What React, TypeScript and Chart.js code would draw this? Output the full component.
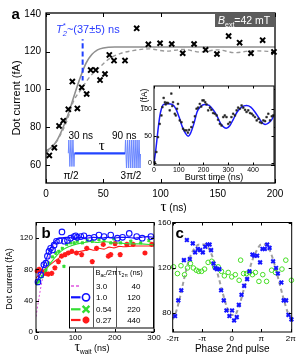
import React, { useEffect, useRef } from "react";
import { Chart, registerables } from "chart.js";
Chart.register(...registerables);

const SANS = "'Liberation Sans', Arial, sans-serif";
const SERIF = "'Liberation Serif', 'Times New Roman', serif";
const W = 307;
const H = 361;

// ---------- Panel a : Ramsey decay ----------
const aTicksX = [0, 50, 100, 150, 200];
const aTicksY = [60, 80, 100, 120, 140];
const aTau = [2.9, 7.3, 11.4, 15.1, 19.5, 23, 27.4, 31.2, 35.5, 39, 43.4, 47.2, 51.5, 55.3, 59.4, 69, 79.2, 89.4, 99.6, 109.8, 119.4, 129.3, 139.4, 149.3, 159.5, 169.1, 179, 189.2, 199.1];
const aCurrent = [65.1, 69.2, 80.7, 83.5, 89.5, 104.2, 90, 101.1, 97.6, 110.3, 110.3, 105, 108.2, 118.3, 115.3, 115.3, 132.4, 123.9, 124.5, 124.1, 119.2, 124.1, 121, 118.8, 128.3, 124.8, 119.2, 126.1, 119.9];
const aFitTau = [0, 5, 10, 15, 20, 25, 30, 35, 40, 45, 50, 60, 80, 200];
const aFitSolid = [67.5, 69.5, 73.5, 80, 88, 97.5, 106.5, 114, 118.5, 121, 122, 122.5, 122.5, 122.5];
const aSimTau = [0, 5, 10.8, 18, 23.9, 31.2, 38.4, 47.2, 55.9, 64.6, 76, 90, 105, 120, 135, 150, 165, 180, 200];
const aSimCurrent = [66.5, 69, 74, 83, 93.6, 100.5, 106.8, 112, 116.5, 119, 120.6, 121.5, 120.3, 121.2, 119.8, 121, 119.5, 120.5, 120];
const aT2Tau = [32, 32];
const aT2Current = [104.7, 126.6];

// ---------- Panel a inset : Rabi oscillation ----------
const inTicksX = [0, 100, 200, 300, 400];
const inTicksY = [0, 50, 100];
const burstTime = [3, 9.5, 16, 23, 30, 34, 39, 44, 47, 52, 57, 63.5, 70, 74, 77, 84, 88, 93, 97, 104, 111, 117.6, 124, 131, 137, 142, 151, 158, 165, 172, 178, 185, 191, 196, 201, 207, 212, 219, 226, 232, 239, 246, 253, 259, 266, 273, 280, 286, 293, 300, 307, 313, 320, 327, 334, 340, 347, 354, 361, 368, 374, 381, 388, 395, 401, 408, 415, 422, 428, 435, 442, 449, 455, 462, 469, 476, 482];
const burstCurrent = [1, 20, 47.5, 72, 87.6, 103, 120, 112, 108, 111, 110.5, 97, 128, 105, 112, 90.7, 87.6, 100, 109, 78.4, 75, 63, 60, 60, 56, 61, 66, 75, 86, 100, 102, 109, 104, 115.4, 115.4, 112, 108, 97, 102, 98, 92, 90.7, 87.6, 79.6, 72, 69, 84.5, 87.6, 84.5, 72, 75, 84.5, 90.7, 87.6, 97, 102, 100, 106, 102, 98, 94, 97, 92, 90.7, 87.6, 84.5, 78.4, 81.5, 75, 73.5, 78.4, 77, 84.5, 90.7, 78.4, 86, 87.6];
const burstFitTime = [0, 7, 16, 23, 30, 39, 57, 74, 88, 101, 115, 128, 138, 147, 161, 174, 188, 205, 223, 239, 253, 269, 282, 293, 307, 320, 336, 354, 374, 391, 408, 426, 439, 449, 462, 476, 485];
const burstFitCurrent = [0, 23, 60, 85, 100, 108, 109, 108, 100, 85, 66, 54, 49, 54, 72, 94, 104, 108, 106, 98, 88, 73, 66, 64, 69, 80, 94, 103, 106, 103, 94, 81.5, 73.5, 71, 73.5, 80, 88];

// ---------- Panel b : current vs waiting time ----------
const bTicksX = [0, 100, 200, 300];
const bTicksY = [0, 40, 80, 120];
const blueT = [5, 12, 20, 25, 29, 33, 37, 42, 46, 52, 60, 66, 72, 80, 88, 97, 101, 105, 114, 122, 135, 148, 160, 173, 190, 207, 220, 237, 256, 270, 292];
const blueI = [64, 73, 86, 88, 97, 103, 107, 105, 111, 116, 117, 128, 116, 117, 120, 122, 123, 121, 122, 123, 120, 121, 124, 122, 124, 120, 121, 126, 122, 120, 122];
const blueFitT = [0, 12, 25, 37, 50, 63, 80, 97, 114, 130, 147, 164, 181, 198, 215, 232, 249, 266, 283, 300];
const blueFitI = [62, 75, 92, 107, 117, 120, 121, 120, 121, 120, 121, 120, 121, 120, 121, 121, 120, 121, 122, 121];
const greenT = [3, 8, 16, 25, 33, 42, 50, 58, 67, 71, 78, 88, 97, 105, 118, 130, 143, 160, 173, 190, 198, 215, 241, 266, 287];
const greenI = [62, 65, 71, 79, 88, 96, 101, 103, 107, 84, 112, 114, 114, 116, 114, 117, 116, 118, 117, 114, 119, 114, 116, 114, 117];
const greenFitT = [0, 20, 37, 54, 71, 88, 105, 122, 139, 156, 173, 190, 215, 241, 266, 300];
const greenFitI = [60, 75, 88, 98.6, 106, 110, 112.7, 114.4, 115.7, 114.4, 115.7, 114.4, 113.6, 112.7, 112.7, 111.4];
const redT = [3, 8, 14, 23, 31, 40, 48, 57, 65, 74, 82, 91, 103, 116, 129, 143, 154, 171, 184, 190, 201, 214, 231, 247, 277, 294];
const redI = [78, 80, 78, 75, 74, 75, 82, 90, 97, 99, 101, 103, 101, 99, 107, 90, 107, 112, 97, 99, 113, 99, 112, 112, 101, 112];
const redFitT = [0, 20, 46, 71, 97, 122, 135, 148, 160, 173, 186, 198, 211, 224, 249, 275, 300];
const redFitI = [69, 79, 90, 98.6, 101.6, 104, 106, 104.5, 107, 106, 108.5, 107.5, 109.5, 109, 110, 110, 110];
const magentaT = [0, 8, 16, 25, 33, 42, 50, 63, 80, 120, 200, 300];
const magentaI = [19.6, 45, 66.6, 83.7, 96.5, 107, 115.7, 120, 121, 121, 121, 121];
const legendBac = ["3.0", "1.0", "0.54", "0.27"];
const legendT2pi = ["40", "120", "220", "440"];

// ---------- Panel c : phase dependence (x in units of π) ----------
const cTicksX = [-2, -1, 0, 1, 2];
const cTickLabelsX = ["-2π", "-π", "0", "π", "2π"];
const cTicksY = [80, 120, 160];
const cBluePhase = [-1.92, -1.81, -1.71, -1.62, -1.52, -1.42, -1.32, -1.24, -1.15, -1.07, -0.98, -0.9, -0.82, -0.75, -0.7, -0.62, -0.56, -0.5, -0.42, -0.36, -0.27, -0.18, -0.08, 0.01, 0.08, 0.17, 0.24, 0.33, 0.42, 0.52, 0.6, 0.7, 0.76, 0.86, 0.96, 1.04, 1.12, 1.2, 1.28, 1.4, 1.5, 1.56, 1.68, 1.76, 1.84, 1.92, 2.02];
const cBlueCurrent = [77, 91, 100, 127, 145, 128, 142, 134, 137, 136, 134, 139, 141, 141, 136, 124, 120, 119, 119, 100, 91, 82, 77, 82, 73, 76, 87, 96, 104, 110, 117, 132, 131, 131, 125, 137, 137, 141, 138, 126, 120, 115, 107, 91, 91, 78, 74];
const cGreenPhase = [-1.97, -1.84, -1.72, -1.6, -1.5, -1.4, -1.3, -1.2, -1.12, -1.02, -0.92, -0.8, -0.68, -0.58, -0.46, -0.35, -0.25, -0.12, 0.0, 0.12, 0.25, 0.3, 0.4, 0.5, 0.6, 0.7, 0.8, 0.92, 1.05, 1.18, 1.35, 1.48, 1.7, 1.83, 2.02];
const cGreenCurrent = [121, 115, 122, 114, 120, 124, 120, 118, 117, 117, 119, 125, 126, 121, 121, 117, 113, 116, 112, 114, 109, 127, 115, 115, 116, 114, 116, 108, 114, 108, 118, 116, 119, 127, 109];
const cFitPhase = [-2, -1.92, -1.75, -1.6, -1.45, -1.3, -1.1, -0.9, -0.75, -0.6, -0.45, -0.3, -0.15, 0, 0.1, 0.25, 0.4, 0.55, 0.7, 0.85, 1.0, 1.15, 1.3, 1.45, 1.6, 1.75, 1.9, 2.02];
const cFitCurrent = [74, 78, 94, 112, 127, 136, 141, 141, 136, 126, 112, 97, 84, 78, 78, 86, 100, 114, 127, 136, 141, 141, 135, 123, 108, 93, 80, 75];

// ---------- helpers ----------
const pts = (xs: number[], ys: number[]) => xs.map((x, i) => ({ x, y: ys[i] }));

function axis(min: number, max: number, ticks: number[], size: number, pad: number, fit: number, horizontal: boolean, labels?: string[]) {
  return {
    type: "linear",
    min,
    max,
    afterBuildTicks: (s: any) => {
      s.ticks = ticks.map((v) => ({ value: v }));
    },
    afterFit: (s: any) => {
      if (horizontal) s.height = fit;
      else s.width = fit;
    },
    grid: { display: false, drawTicks: false },
    border: { display: false },
    ticks: {
      font: { family: SANS, size },
      color: "#000",
      padding: pad,
      autoSkip: false,
      maxRotation: 0,
      minRotation: 0,
      callback: (v: any, i: number) => (labels ? labels[i] : String(v)),
    },
  };
}

function pad(L: number, T: number, R: number, B: number, yFit: number, xFit: number) {
  return { left: L - yFit, top: T, right: W - R, bottom: H - B - xFit };
}

function framePlugin(lw: number, len: number, fill: boolean) {
  return {
    id: "frame",
    beforeDraw(chart: any) {
      if (!fill) return;
      const { ctx, chartArea: a } = chart;
      ctx.save();
      ctx.fillStyle = "#fff";
      ctx.fillRect(a.left, a.top, a.right - a.left, a.bottom - a.top);
      ctx.restore();
    },
    afterDatasetsDraw(chart: any) {
      const { ctx, chartArea: a, scales } = chart;
      ctx.save();
      ctx.strokeStyle = "#000";
      ctx.lineWidth = lw;
      ctx.strokeRect(a.left, a.top, a.right - a.left, a.bottom - a.top);
      ctx.lineWidth = 1;
      ctx.beginPath();
      scales.x.ticks.forEach((t: any) => {
        const x = Math.round(scales.x.getPixelForValue(t.value)) + 0.5;
        ctx.moveTo(x, a.bottom);
        ctx.lineTo(x, a.bottom - len);
        ctx.moveTo(x, a.top);
        ctx.lineTo(x, a.top + len);
      });
      scales.y.ticks.forEach((t: any) => {
        const y = Math.round(scales.y.getPixelForValue(t.value)) + 0.5;
        ctx.moveTo(a.left, y);
        ctx.lineTo(a.left + len, y);
        ctx.moveTo(a.right, y);
        ctx.lineTo(a.right - len, y);
      });
      ctx.stroke();
      ctx.restore();
    },
  };
}

type Seg = { t: string; f: string; dy?: number; stay?: boolean };
function rich(ctx: CanvasRenderingContext2D, segs: Seg[], x: number, y: number, align: "left" | "center" | "right" = "left") {
  let w = 0;
  segs.forEach((s) => {
    ctx.font = s.f;
    if (!s.stay) w += ctx.measureText(s.t).width;
  });
  let cx = align === "center" ? x - w / 2 : align === "right" ? x - w : x;
  ctx.textAlign = "left";
  segs.forEach((s) => {
    ctx.font = s.f;
    ctx.fillText(s.t, cx, y + (s.dy || 0));
    if (!s.stay) cx += ctx.measureText(s.t).width;
  });
}

function zigzag(ctx: CanvasRenderingContext2D, x0: number, x1: number, yTop: number, yBot: number, n: number) {
  ctx.beginPath();
  const ym = (yTop + yBot) / 2;
  ctx.moveTo(x0, ym);
  const step = (x1 - x0) / (2 * n);
  for (let i = 0; i < 2 * n; i++) {
    ctx.lineTo(x0 + step * (i + 0.5), i % 2 === 0 ? yTop : yBot);
  }
  ctx.lineTo(x1, ym);
  ctx.stroke();
}

const baseOptions = (padding: any, scales: any) => ({
  responsive: false,
  animation: false,
  devicePixelRatio: 1,
  events: [],
  layout: { padding },
  plugins: { legend: { display: false }, tooltip: { enabled: false }, title: { display: false } },
  scales,
});

const pointSet = (data: any, style: string, color: string, r: number, bw: number, fill = "transparent") => ({
  data,
  showLine: false,
  pointStyle: style,
  pointRadius: r,
  pointBorderColor: color,
  pointBackgroundColor: fill,
  pointBorderWidth: bw,
  borderColor: color,
  backgroundColor: fill,
  clip: false,
});

const lineSet = (data: any, color: string, bw: number, dash: number[] = []) => ({
  data,
  showLine: true,
  pointRadius: 0,
  borderColor: color,
  borderWidth: bw,
  borderDash: dash,
  cubicInterpolationMode: "monotone",
  fill: false,
});

// ---------- chart builders ----------
function makeA() {
  const L = 46, T = 13, R = 275, B = 183;
  const deco = {
    id: "decoA",
    afterDraw(chart: any) {
      const { ctx, chartArea: a } = chart;
      ctx.save();
      ctx.fillStyle = "#000";
      ctx.textBaseline = "alphabetic";
      rich(ctx, [{ t: "a", f: `bold 15px ${SANS}` }], 11.5, 18.5);
      ctx.save();
      ctx.translate(17, (a.top + a.bottom) / 2);
      ctx.rotate(-Math.PI / 2);
      ctx.textBaseline = "middle";
      rich(ctx, [{ t: "Dot current (fA)", f: `11px ${SANS}` }], 0, 0, "center");
      ctx.restore();
      rich(ctx, [{ t: "τ", f: `15px ${SERIF}` }, { t: " (ns)", f: `10px ${SANS}` }], (a.left + a.right) / 2, 211);
      ctx.fillStyle = "#2a3cff";
      rich(ctx, [
        { t: "T", f: `italic 11px ${SANS}` },
        { t: "*", f: `8px ${SANS}`, dy: -5, stay: true },
        { t: "2", f: `italic 7.5px ${SANS}`, dy: 3 },
        { t: "~(37±5) ns", f: `11px ${SANS}` },
      ], 56, 33);
      ctx.fillStyle = "#5c5c5c";
      ctx.fillRect(a.right - 60, a.top, 60, 14);
      ctx.fillStyle = "#fff";
      rich(ctx, [
        { t: "B", f: `italic 10.5px ${SANS}` },
        { t: "ext", f: `7px ${SANS}`, dy: 2.5 },
        { t: "=42 mT", f: `10.5px ${SANS}` },
      ], a.right - 57, a.top + 11);
      ctx.strokeStyle = "#6a86ff";
      ctx.lineWidth = 1;
      zigzag(ctx, 68.3, 74.5, 140, 166.5, 3);
      zigzag(ctx, 125, 140.5, 140, 168, 8);
      ctx.strokeStyle = "#2244ff";
      ctx.lineWidth = 2.2;
      ctx.beginPath();
      ctx.moveTo(74.5, 153.3);
      ctx.lineTo(125, 153.3);
      ctx.stroke();
      ctx.fillStyle = "#000";
      rich(ctx, [{ t: "30 ns", f: `10px ${SANS}` }], 68.5, 138.5);
      rich(ctx, [{ t: "90 ns", f: `10px ${SANS}` }], 112, 138.5);
      rich(ctx, [{ t: "τ", f: `15px ${SERIF}` }], 101.7, 150, "center");
      rich(ctx, [{ t: "π/2", f: `10px ${SANS}` }], 71, 178.5, "center");
      rich(ctx, [{ t: "3π/2", f: `10px ${SANS}` }], 131, 178.5, "center");
      ctx.restore();
    },
  };
  return {
    type: "scatter",
    data: {
      datasets: [
        pointSet(pts(aTau, aCurrent), "crossRot", "#000", 3.6, 2),
        lineSet(pts(aT2Tau, aT2Current), "#1f3fff", 2, [5, 3]),
        lineSet(pts(aSimTau, aSimCurrent), "#999999", 1.4, [4, 3]),
        lineSet(pts(aFitTau, aFitSolid), "#8f8f8f", 1.6),
      ],
    },
    options: baseOptions(pad(L, T, R, B, 30, 24), {
      x: axis(0, 200, aTicksX, 10, 5, 24, true),
      y: axis(50.5, 140.5, aTicksY, 10, 5, 30, false),
    }),
    plugins: [framePlugin(1.3, 4, false), deco],
  };
}

function makeInset() {
  const L = 154, T = 86, R = 274, B = 165;
  const deco = {
    id: "decoIn",
    afterDraw(chart: any) {
      const { ctx, chartArea: a } = chart;
      ctx.save();
      ctx.fillStyle = "#000";
      ctx.textBaseline = "middle";
      rich(ctx, [{ t: "Burst time (ns)", f: `9px ${SANS}` }], (a.left + a.right) / 2, 177.5, "center");
      ctx.translate(145, 98);
      ctx.rotate(-Math.PI / 2);
      rich(ctx, [{ t: "I", f: `italic 8.5px ${SANS}` }, { t: " (fA)", f: `8.5px ${SANS}` }], 0, 0, "center");
      ctx.restore();
    },
  };
  return {
    type: "scatter",
    data: {
      datasets: [
        pointSet(pts(burstTime, burstCurrent), "rect", "#222", 1.2, 0.5, "#222"),
        lineSet(pts(burstFitTime, burstFitCurrent), "#1a1aff", 1.5),
      ],
    },
    options: baseOptions(pad(L, T, R, B, 14, 10), {
      x: axis(0, 485, inTicksX, 7, 1, 10, true),
      y: axis(-4, 142, inTicksY, 7, 2, 14, false),
    }),
    plugins: [framePlugin(1, 2.5, true), deco],
  };
}

function drawMarker(ctx: CanvasRenderingContext2D, kind: string, x: number, y: number, r: number) {
  ctx.beginPath();
  if (kind === "circle") {
    ctx.arc(x, y, r, 0, Math.PI * 2);
  } else if (kind === "x") {
    ctx.moveTo(x - r, y - r); ctx.lineTo(x + r, y + r);
    ctx.moveTo(x + r, y - r); ctx.lineTo(x - r, y + r);
  } else if (kind === "star") {
    ctx.moveTo(x - r, y); ctx.lineTo(x + r, y);
    ctx.moveTo(x, y - r); ctx.lineTo(x, y + r);
    const d = r * 0.72;
    ctx.moveTo(x - d, y - d); ctx.lineTo(x + d, y + d);
    ctx.moveTo(x + d, y - d); ctx.lineTo(x - d, y + d);
  }
  ctx.stroke();
}

function makeB() {
  const L = 36, T = 222.5, R = 154, B = 332;
  const deco = {
    id: "decoB",
    afterDraw(chart: any) {
      const { ctx, chartArea: a } = chart;
      ctx.save();
      ctx.fillStyle = "#000";
      ctx.textBaseline = "alphabetic";
      rich(ctx, [{ t: "b", f: `bold 15px ${SANS}` }], 41.5, 237.5);
      ctx.save();
      ctx.translate(10, 279);
      ctx.rotate(-Math.PI / 2);
      ctx.textBaseline = "middle";
      rich(ctx, [{ t: "Dot current (fA)", f: `9px ${SANS}` }], 0, 0, "center");
      ctx.restore();
      rich(ctx, [
        { t: "τ", f: `14px ${SERIF}` },
        { t: "wait", f: `6.5px ${SANS}`, dy: 2.5 },
        { t: " (ns)", f: `9px ${SANS}` },
      ], 92, 351, "center");
      const bx = { l: 69, t: 266.5, r: a.right, b: 327.5 };
      ctx.fillStyle = "#fff";
      ctx.fillRect(bx.l, bx.t, bx.r - bx.l, bx.b - bx.t);
      ctx.strokeStyle = "#000";
      ctx.lineWidth = 1;
      ctx.strokeRect(bx.l + 0.5, bx.t + 0.5, bx.r - bx.l - 1, bx.b - bx.t);
      ctx.strokeStyle = "#555";
      ctx.beginPath();
      ctx.moveTo(93.5, bx.t); ctx.lineTo(93.5, bx.b);
      ctx.moveTo(116.5, bx.t); ctx.lineTo(116.5, bx.b);
      ctx.stroke();
      ctx.fillStyle = "#000";
      rich(ctx, [
        { t: "B", f: `7.5px ${SANS}` },
        { t: "ac", f: `5px ${SANS}`, dy: 2 },
        { t: "/2π", f: `7.5px ${SANS}` },
      ], 95.5, 275);
      rich(ctx, [
        { t: "τ", f: `9px ${SERIF}` },
        { t: "2π", f: `5px ${SANS}`, dy: 2 },
        { t: " (ns)", f: `7.5px ${SANS}` },
      ], 118, 275);
      const rows = [286, 297.3, 309.3, 320];
      const colors = ["#e055e0", "#1010ff", "#33dd33", "#ff1a1a"];
      const kinds = ["", "circle", "x", "star"];
      rows.forEach((ry, i) => {
        ctx.fillStyle = "#000";
        rich(ctx, [{ t: legendBac[i], f: `8px ${SANS}` }], 96, ry + 3);
        rich(ctx, [{ t: legendT2pi[i], f: `8px ${SANS}` }], 140.5, ry + 3, "right");
        ctx.strokeStyle = colors[i];
        ctx.lineWidth = i === 0 ? 1.5 : 2.2;
        ctx.setLineDash(i === 0 ? [3, 2] : []);
        ctx.beginPath();
        ctx.moveTo(71, ry);
        ctx.lineTo(i === 0 ? 79 : 80.5, ry);
        ctx.stroke();
        ctx.setLineDash([]);
        if (kinds[i]) {
          ctx.lineWidth = i === 1 ? 1.6 : 2.4;
          drawMarker(ctx, kinds[i], 86, ry, i === 1 ? 3.6 : 3.4);
        }
      });
      ctx.restore();
    },
  };
  return {
    type: "scatter",
    data: {
      datasets: [
        pointSet(pts(blueT, blueI), "circle", "#1010ff", 2.8, 1.1),
        lineSet(pts(blueFitT, blueFitI), "#1010ff", 1.1),
        pointSet(pts(greenT, greenI), "crossRot", "#33dd33", 1.8, 1.8),
        lineSet(pts(greenFitT, greenFitI), "#33dd33", 1.1),
        pointSet(pts(redT, redI), "star", "#ff1a1a", 2.6, 1.5),
        lineSet(pts(redFitT, redFitI), "#ff1a1a", 1.1),
        lineSet(pts(magentaT, magentaI), "#e055e0", 1, [2, 2]),
      ],
    },
    options: baseOptions(pad(L, T, R, B, 20, 12), {
      x: axis(0, 300, bTicksX, 8, 1, 12, true),
      y: axis(0, 140, bTicksY, 8, 3, 20, false),
    }),
    plugins: [framePlugin(1, 3, false), deco],
  };
}

function makeC() {
  const L = 172.7, T = 222.5, R = 291.7, B = 332;
  const deco = {
    id: "decoC",
    afterDraw(chart: any) {
      const { ctx, chartArea: a } = chart;
      ctx.save();
      ctx.fillStyle = "#000";
      ctx.textBaseline = "alphabetic";
      rich(ctx, [{ t: "c", f: `bold 15px ${SANS}` }], 175.5, 237.5);
      rich(ctx, [{ t: "Phase 2nd pulse", f: `10px ${SANS}` }], (a.left + a.right) / 2, 352, "center");
      ctx.restore();
    },
  };
  return {
    type: "scatter",
    data: {
      datasets: [
        pointSet(pts(cBluePhase, cBlueCurrent), "crossRot", "#1515ff", 2.6, 2),
        pointSet(pts(cGreenPhase, cGreenCurrent), "circle", "#44dd22", 2.3, 1),
        lineSet(pts(cFitPhase, cFitCurrent), "#a0a0a0", 2, [4, 3]),
      ],
    },
    options: baseOptions(pad(L, T, R, B, 16, 12), {
      x: axis(-2, 2.03, cTicksX, 8, 2, 12, true, cTickLabelsX),
      y: axis(62.7, 160.7, cTicksY, 8, 1.5, 16, false),
    }),
    plugins: [framePlugin(1, 3, false), deco],
  };
}

function ChartLayer({ make }: { make: () => any }) {
  const ref = useRef<HTMLCanvasElement | null>(null);
  useEffect(() => {
    if (!ref.current) return;
    const chart = new Chart(ref.current, make() as any);
    return () => chart.destroy();
  }, [make]);
  return (
    <canvas
      ref={ref}
      width={W}
      height={H}
      style={{ position: "absolute", left: 0, top: 0, width: W, height: H }}
    />
  );
}

export default function App() {
  return (
    <div style={{ position: "absolute", left: 0, top: 0, width: W, height: H, background: "#fff", overflow: "hidden" }}>
      <ChartLayer make={makeA} />
      <ChartLayer make={makeB} />
      <ChartLayer make={makeC} />
      <ChartLayer make={makeInset} />
    </div>
  );
}
